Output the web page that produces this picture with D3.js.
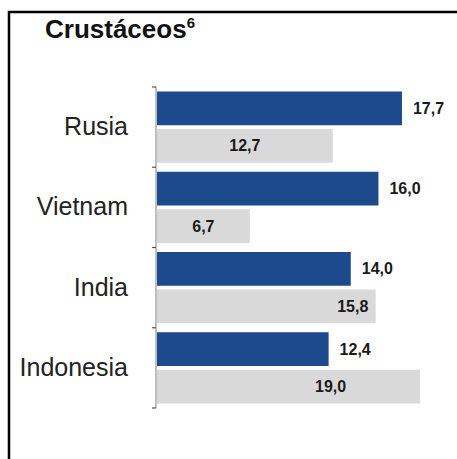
<!DOCTYPE html>
<html><head><meta charset="utf-8">
<script src="https://cdn.jsdelivr.net/npm/d3@7/dist/d3.min.js"></script>
<style>body{margin:0;background:#fff}svg{display:block}</style>
</head><body>
<script>
const categories = ["Rusia", "Vietnam", "India", "Indonesia"];
const seriesNames = ["A", "B"];
const seriesA = [17.7, 16.0, 14.0, 12.4];
const seriesB = [12.7, 6.7, 15.8, 19.0];
const title = "Crustáceos";
const titleSup = "6";

const W = 457, H = 459;
const svg = d3.select("body").append("svg").attr("width", W).attr("height", H);
svg.append("rect").attr("width", W).attr("height", H).attr("fill", "#fff");

// frame
svg.append("path").attr("d", `M9,${H} L9,12 L${W},12`).attr("fill", "none")
  .attr("stroke", "#000").attr("stroke-width", 2.5);

const font = "'Liberation Sans', Arial, sans-serif";
const t = svg.append("text").attr("x", 45).attr("y", 38).attr("font-family", font)
  .attr("font-weight", "bold").attr("font-size", 26).attr("fill", "#111");
t.append("tspan").text(title);
t.append("tspan").attr("font-size", 15).attr("dy", -10).text(titleSup);

const x = d3.scaleLinear().domain([0, 20]).range([157, 157 + 276.8]);
const y = d3.scaleBand().domain(categories).range([87, 408]).padding(0);
const inner = d3.scaleBand().domain(seriesNames).range([0, y.bandwidth()])
  .paddingInner(0.1).paddingOuter(0.12);

const colors = {A: "#1d4a8c", B: "#d9d9d9"};

const rows = categories.map((c, i) => ({c, A: seriesA[i], B: seriesB[i]}));

const g = svg.append("g");
rows.forEach(r => {
  seriesNames.forEach(s => {
    g.append("rect")
      .attr("x", x(0))
      .attr("y", y(r.c) + inner(s))
      .attr("width", x(r[s]) - x(0))
      .attr("height", inner.bandwidth())
      .attr("fill", colors[s]);
  });
});

const fmt = v => d3.format(".1f")(v).replace(".", ",");

// labels
rows.forEach(r => {
  g.append("text").attr("x", x(r.A) + 11)
    .attr("y", y(r.c) + inner("A") + inner.bandwidth() / 2)
    .attr("dy", "0.35em").attr("font-family", font).attr("font-weight", "bold")
    .attr("font-size", 16).attr("fill", "#1a1a1a").text(fmt(r.A));
  const cx = r.B <= r.A ? (x(0) + x(r.B)) / 2 : x(r.A) + 2;
  g.append("text").attr("x", cx)
    .attr("y", y(r.c) + inner("B") + inner.bandwidth() / 2)
    .attr("dy", "0.35em").attr("text-anchor", "middle").attr("font-family", font)
    .attr("font-weight", "bold").attr("font-size", 16).attr("fill", "#1a1a1a").text(fmt(r.B));
});

// axis
const axis = d3.axisLeft(y).tickSize(0).tickPadding(28);
const ag = svg.append("g").attr("transform", `translate(156,0)`).call(axis);
ag.select(".domain").attr("stroke", "#7f7f7f").attr("d", `M0,${y.range()[0]}V${y.range()[1]}`);
ag.selectAll("text").attr("font-family", font).attr("font-size", 25).attr("fill", "#222");
// boundary ticks
const bounds = categories.map(c => y(c)).concat([y.range()[1]]);
ag.selectAll("line.bt").data(bounds).enter().append("line").attr("class", "bt")
  .attr("x1", -4).attr("x2", 0).attr("y1", d => d).attr("y2", d => d)
  .attr("stroke", "#555").attr("stroke-width", 1.2);
</script>
</body></html>
